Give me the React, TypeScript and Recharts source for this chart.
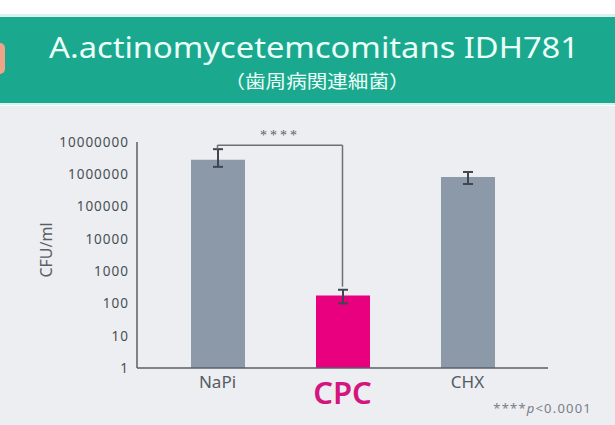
import { Bar, BarChart, Cell, ErrorBar, ReferenceLine, XAxis, YAxis } from "recharts";

const groups = ["NaPi", "CPC", "CHX"];
const cfu = [2800000, 175, 830000];
const cfuErr: Array<[number, number]> = [
  [1100000, 3200000],
  [75, 90],
  [330000, 350000],
];
const barColors = ["#8c99a8", "#e8007f", "#8c99a8"];
const yTicks = [1, 10, 100, 1000, 10000, 100000, 1000000, 10000000];

const data = groups.map((g, i) => ({ group: g, cfu: cfu[i], err: cfuErr[i] }));

function GroupTick(props: any) {
  const { x, y, payload } = props;
  if (payload.value === "CPC") {
    return (
      <text x={x} y={y} dy={28} textAnchor="middle" fill="#d4147f" fontSize={31} fontWeight={600} fontFamily="Noto Sans, sans-serif">
        {payload.value}
      </text>
    );
  }
  return (
    <text x={x} y={y} dy={12} textAnchor="middle" fill="#555b63" fontSize={17} fontFamily="Noto Sans, sans-serif">
      {payload.value}
    </text>
  );
}

export default function App() {
  return (
    <div style={{ position: "fixed", left: 0, top: 0, width: 615, height: 425, background: "#eceef1", overflow: "hidden" }}>
      <svg width={615} height={106} style={{ position: "absolute", left: 0, top: 0 }}>
        <rect x={0} y={0} width={615} height={106} fill="#ffffff" />
        <rect x={0} y={14} width={615} height={91} fill="#d8f1ee" />
        <rect x={0} y={17} width={615} height={86} fill="#1aa88f" />
        <rect x={-6} y={43} width={11} height={31} rx={5} fill="#f0a487" />
        <text x={314} y={58} textAnchor="middle" fill="#eafff8" fontSize={29} fontFamily="Noto Sans, sans-serif" textLength={530} lengthAdjust="spacingAndGlyphs">
          A.actinomycetemcomitans IDH781
        </text>
        <text x={317} y={88} textAnchor="middle" fill="#eafff8" fontSize={18} fontFamily="Noto Sans CJK JP, sans-serif" textLength={185} lengthAdjust="spacingAndGlyphs">
          （歯周病関連細菌）
        </text>
      </svg>
      <div style={{ position: "absolute", left: 0, top: 105 }}>
        <BarChart width={615} height={320} data={data} margin={{ top: 37, right: 67, bottom: 27, left: 30 }}>
          <XAxis
            dataKey="group"
            tick={<GroupTick />}
            tickLine={false}
            axisLine={{ stroke: "#5a5f66", strokeWidth: 1.5 }}
            padding={{ left: 18, right: 18 }}
            height={30}
            interval={0}
          />
          <YAxis
            scale="log"
            domain={[1, 10000000]}
            ticks={yTicks}
            allowDataOverflow
            tickLine={false}
            axisLine={{ stroke: "#5a5f66", strokeWidth: 1.5 }}
            width={107}
            tick={{ fill: "#4a4f56", fontSize: 13.5, letterSpacing: 1, fontFamily: "Noto Sans, sans-serif" }}
          />
          <Bar dataKey="cfu" barSize={54} isAnimationActive={false}>
            {data.map((d, i) => (
              <Cell key={d.group} fill={barColors[i]} />
            ))}
            <ErrorBar dataKey="err" width={5} stroke="#3f4650" strokeWidth={2} />
          </Bar>
          <ReferenceLine
            segment={[{ x: "NaPi", y: 8000000 }, { x: "CPC", y: 8000000 }]}
            stroke="#6b7078"
            strokeWidth={1.5}
            label={{ value: "****", position: "top", fill: "#5a5f66", fontSize: 14, letterSpacing: 3 }}
          />
          <ReferenceLine segment={[{ x: "NaPi", y: 8000000 }, { x: "NaPi", y: 6000000 }]} stroke="#6b7078" strokeWidth={1.5} />
          <ReferenceLine segment={[{ x: "CPC", y: 8000000 }, { x: "CPC", y: 330 }]} stroke="#6b7078" strokeWidth={1.5} />
        </BarChart>
      </div>
      <svg width={80} height={200} style={{ position: "absolute", left: 0, top: 150 }}>
        <text x={0} y={0} transform="translate(52,100) rotate(-90)" textAnchor="middle" fill="#5a5f66" fontSize={16} fontFamily="Noto Sans, sans-serif">
          CFU/ml
        </text>
      </svg>
      <svg width={615} height={30} style={{ position: "absolute", left: 0, top: 395 }}>
        <text x={592} y={18} textAnchor="end" fill="#7a7f86" fontSize={13} letterSpacing={1.2} fontFamily="Noto Sans, sans-serif">
          ****<tspan fontStyle="italic">p</tspan>&lt;0.0001
        </text>
      </svg>
    </div>
  );
}
